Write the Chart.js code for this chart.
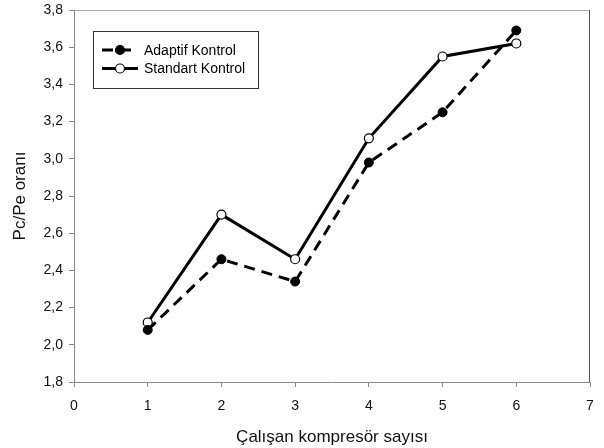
<!DOCTYPE html>
<html>
<head>
<meta charset="utf-8">
<script src="https://cdn.jsdelivr.net/npm/chart.js@4/dist/chart.umd.min.js"></script>
<style>
  html, body { margin: 0; padding: 0; background: #fff; }
  #wrap { width: 604px; height: 448px; }
</style>
</head>
<body>
<div id="wrap"><canvas id="chart" width="604" height="448"></canvas></div>
<script>
const kompresor = [1, 2, 3, 4, 5, 6];
const adaptif = [2.08, 2.46, 2.34, 2.98, 3.25, 3.69];
const standart = [2.12, 2.70, 2.46, 3.11, 3.55, 3.62];
const xTicks = [0, 1, 2, 3, 4, 5, 6, 7];
const yTicks = [1.8, 2.0, 2.2, 2.4, 2.6, 2.8, 3.0, 3.2, 3.4, 3.6, 3.8];

const FONT = "'Liberation Sans', Arial, sans-serif";

// çerçeve + lejant kutusu
const framePlugin = {
    id: 'frame',
    afterDraw(chart) {
        const ctx = chart.ctx;
        const a = chart.chartArea;
        ctx.save();
        ctx.lineWidth = 1;
        ctx.strokeStyle = '#aaa';
        ctx.beginPath();
        ctx.moveTo(a.left, a.top + 0.5);
        ctx.lineTo(a.right, a.top + 0.5);
        ctx.stroke();
        ctx.strokeStyle = '#555';
        ctx.beginPath();
        ctx.moveTo(a.right - 0.5, a.top);
        ctx.lineTo(a.right - 0.5, a.bottom);
        ctx.stroke();

        // lejant
        const bx = 93.5, by = 31.5, bw = 165, bh = 57;
        ctx.strokeStyle = '#333';
        ctx.strokeRect(bx, by, bw, bh);
        chart.data.datasets.forEach((ds, i) => {
            const y = 50 + i * 18.5;
            ctx.lineWidth = 3;
            ctx.strokeStyle = '#000';
            ctx.setLineDash(ds.borderDash || []);
            ctx.beginPath();
            ctx.moveTo(102, y);
            ctx.lineTo(138, y);
            ctx.stroke();
            ctx.setLineDash([]);
            ctx.lineWidth = 1.2;
            ctx.beginPath();
            ctx.arc(120, y, 4.5, 0, Math.PI * 2);
            ctx.fillStyle = ds.pointBackgroundColor;
            ctx.fill();
            ctx.stroke();
            ctx.fillStyle = '#000';
            ctx.font = '14px ' + FONT;
            ctx.textBaseline = 'middle';
            ctx.fillText(ds.label, 144, y + 1);
        });
        ctx.restore();
    }
};

new Chart(document.getElementById('chart').getContext('2d'), {
    type: 'line',
    data: {
        labels: kompresor,
        datasets: [{
            label: 'Adaptif Kontrol',
            data: kompresor.map((k, i) => ({x: k, y: adaptif[i]})),
            borderColor: '#000',
            borderWidth: 3,
            borderDash: [11, 7],
            pointRadius: 4.5,
            pointBackgroundColor: '#000',
            pointBorderColor: '#000',
            pointBorderWidth: 1,
            tension: 0
        }, {
            label: 'Standart Kontrol',
            data: kompresor.map((k, i) => ({x: k, y: standart[i]})),
            borderColor: '#000',
            borderWidth: 3,
            pointRadius: 4.5,
            pointBackgroundColor: '#fff',
            pointBorderColor: '#000',
            pointBorderWidth: 1.2,
            tension: 0
        }]
    },
    options: {
        responsive: false,
        animation: false,
        layout: {padding: {top: 10, right: 14, left: 0, bottom: 0}},
        plugins: {
            legend: {display: false},
            tooltip: {enabled: false}
        },
        scales: {
            x: {
                type: 'linear',
                min: 0,
                max: 7,
                afterFit: s => { s.height = 66; s.paddingLeft = 0; s.paddingRight = 0; },
                afterBuildTicks: s => { s.ticks = xTicks.map(v => ({value: v})); },
                grid: {drawOnChartArea: false, tickLength: 5, color: '#888'},
                border: {color: '#888', width: 1},
                ticks: {color: '#111', font: {family: FONT, size: 14}, padding: 11},
                title: {display: true, text: 'Çalışan kompresör sayısı', color: '#111',
                        font: {family: FONT, size: 17}, padding: {top: 4, bottom: 0}}
            },
            y: {
                min: 1.8,
                max: 3.8,
                afterFit: s => { s.width = 74; s.paddingTop = 0; s.paddingBottom = 0; },
                afterBuildTicks: s => { s.ticks = yTicks.map(v => ({value: v})); },
                grid: {drawOnChartArea: false, tickLength: 5, color: '#888'},
                border: {color: '#888', width: 1},
                ticks: {color: '#111', font: {family: FONT, size: 14}, padding: 6,
                        callback: v => v.toFixed(1).replace('.', ',')},
                title: {display: true, text: 'Pc/Pe oranı', color: '#111',
                        font: {family: FONT, size: 17}, padding: {top: 10, bottom: 4}}
            }
        }
    },
    plugins: [framePlugin]
});
</script>
</body>
</html>
